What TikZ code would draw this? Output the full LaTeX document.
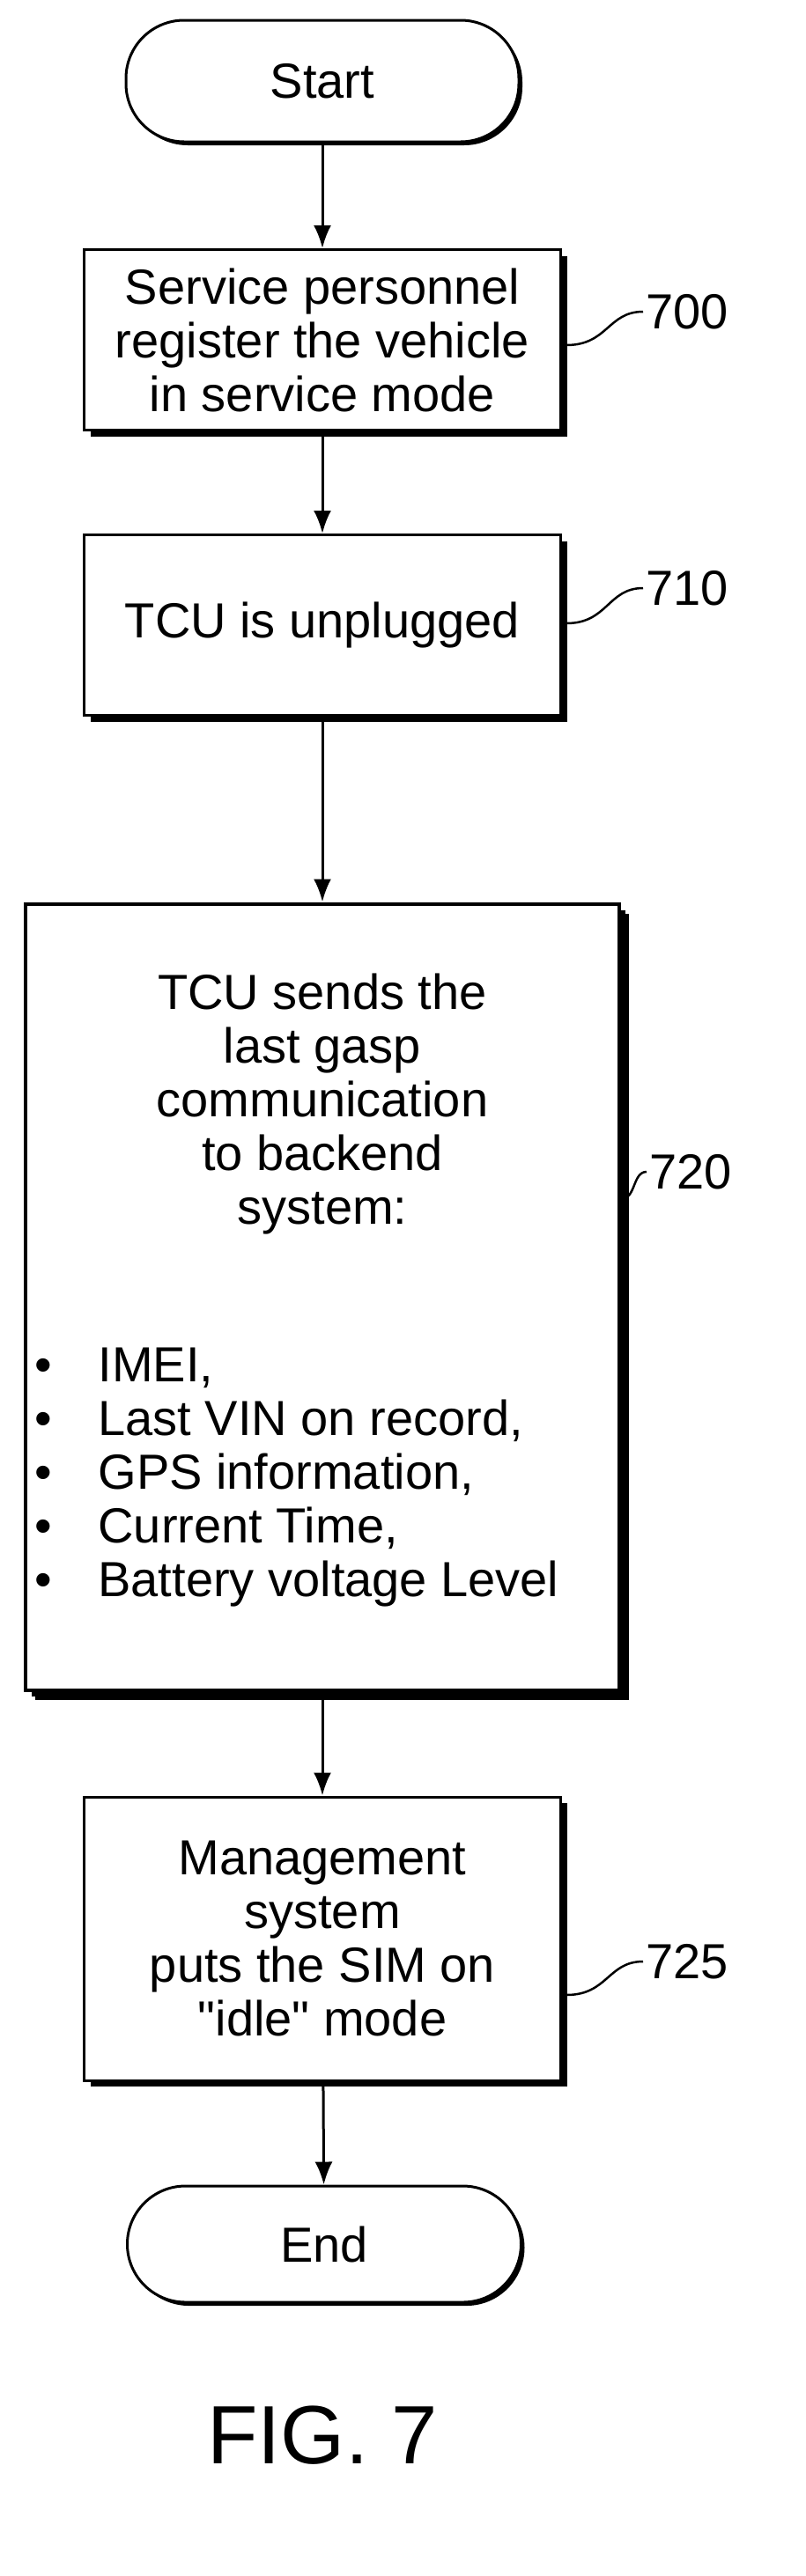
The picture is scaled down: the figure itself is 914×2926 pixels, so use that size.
\documentclass[tikz,border=0pt]{standalone}
\usepackage{fontspec}
\setmainfont[Ligatures=TeXOff]{Liberation Sans}
\usetikzlibrary{arrows.meta}
\usetikzlibrary{shadows}

\tikzset{
  stepbox/.style={draw, line width=3pt, fill=white, align=center,
    drop shadow={shadow xshift=7pt, shadow yshift=-7pt, opacity=1, fill=black}},
  term/.style={draw, line width=3pt, fill=white, rounded corners=66pt,
    drop shadow={shadow xshift=4pt, shadow yshift=-4pt, opacity=1, fill=black}},
  flow/.style={-{Latex[length=26pt,width=20pt]}, line width=3pt},
  leader/.style={line width=2.5pt},
}

\begin{document}
\begin{tikzpicture}[x=1pt,y=-1pt,font=\fontsize{56}{61}\selectfont]
\useasboundingbox (0,0) rectangle (914,2926);

\node [term, minimum width=446pt, minimum height=138pt] (start) at (366,92) {Start};
\node [stepbox, minimum width=541pt, minimum height=205pt] (s700) at (366,386)
  {Service personnel\\register the vehicle\\in service mode};
\node [stepbox, minimum width=541pt, minimum height=205pt] (s710) at (366,710)
  {TCU is unplugged};
\node [stepbox, line width=4pt, minimum width=674pt, minimum height=893pt,
  drop shadow={shadow xshift=11pt, shadow yshift=-11pt, opacity=1, fill=black}] (s720) at (366,1473) {};
\node [align=center] (t720) at (366,1254)
  {TCU sends the\\last gasp\\communication\\to backend\\system:};
\node [align=left, anchor=west] (b720) at (36,1678)
  {\makebox[72pt][l]{•}IMEI,\\
   \makebox[72pt][l]{•}Last VIN on record,\\
   \makebox[72pt][l]{•}GPS information,\\
   \makebox[72pt][l]{•}Current Time,\\
   \makebox[72pt][l]{•}Battery voltage Level};
\node [stepbox, minimum width=541pt, minimum height=322pt] (s725) at (366,2202)
  {Management\\system\\puts the SIM on\\"idle" mode};
\node [term, minimum width=447pt, minimum height=132pt] (end) at (368,2549) {End};

\draw [flow] (start) -- (s700);
\draw [flow] (s700) -- (s710);
\draw [flow] (s710) -- (s720);
\draw [flow] (s720) -- (s725);
\draw [flow] (s725) -- (end);

% reference numerals
\node [anchor=west] (l700) at (730,354) {700};
\node [anchor=west] (l710) at (730,668) {710};
\node [anchor=west] (l720) at (734,1331) {720};
\node [anchor=west] (l725) at (730,2228) {725};
\coordinate (c700) at (643,392);
\coordinate (c710) at (643,708);
\coordinate (c720) at (705,1362);
\coordinate (c725) at (643,2266);
\draw [leader] (c700) .. controls (690,392) and (690,354) .. (l700.west);
\draw [leader] (c710) .. controls (690,708) and (690,668) .. (l710.west);
\draw [leader] (c720) .. controls (722,1362) and (718,1331) .. (l720.west);
\draw [leader] (c725) .. controls (690,2266) and (690,2228) .. (l725.west);

\node [font=\fontsize{94}{100}\selectfont] (fig) at (366,2766) {FIG. 7};
\end{tikzpicture}
\end{document}
